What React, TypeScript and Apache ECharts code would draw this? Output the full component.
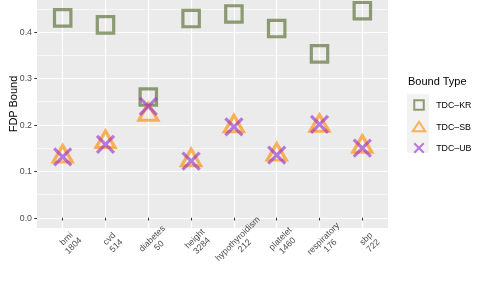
import React, { useEffect, useRef } from "react";
import * as echarts from "echarts";

const categories = ["bmi", "cvd", "diabetes", "height", "hypothyroidism", "platelet", "respiratory", "sbp"];
const counts = [1804, 514, 50, 3284, 212, 1460, 176, 722];
const krValues = [0.4305, 0.4155, 0.26, 0.429, 0.439, 0.4075, 0.353, 0.446];
const sbValues = [0.132, 0.163, 0.222, 0.124, 0.197, 0.136, 0.198, 0.153];
const ubValues = [0.131, 0.158, 0.24, 0.122, 0.196, 0.135, 0.201, 0.15];
const yTicks = [0, 0.1, 0.2, 0.3, 0.4];
const yMinorTicks = [0.05, 0.15, 0.25, 0.35, 0.45];
const seriesNames = ["TDC\u2013KR", "TDC\u2013SB", "TDC\u2013UB"];

const FONT = "'Liberation Sans', Arial, Helvetica, sans-serif";
const KR = "rgba(85,107,47,0.8)";
const SB = "rgba(255,140,0,0.8)";
const UB = "rgba(153,50,204,0.8)";

const SQUARE_PATH = "path://M0,0H10V10H0Z";
const X_PATH = "path://M0,0L10,10M10,0L0,10";

const Y_MIN = -0.022;
const Y_MAX = 0.469;
const GRID = { left: 37, top: 0, width: 351, height: 228 };

export default function App() {
  const ref = useRef<HTMLDivElement>(null);
  useEffect(() => {
    if (!ref.current) return;
    const chart = echarts.init(ref.current, undefined, { renderer: "svg" });
    const xPos = categories.map((_, i) => i + 1);
    const toPoints = (vals: number[]) => vals.map((v, i) => [i + 1, v]);
    chart.setOption({
      animation: false,
      textStyle: { fontFamily: FONT },
      title: {
        text: "Bound Type",
        left: 408,
        top: 75.5,
        padding: 0,
        textStyle: { fontSize: 11, fontWeight: "normal", color: "#000", fontFamily: FONT },
      },
      graphic: [
        {
          type: "rect",
          shape: { x: GRID.left, y: GRID.top, width: GRID.width, height: GRID.height },
          style: { fill: "#EBEBEB" },
          silent: true,
          z: -100,
        },
        {
          type: "rect",
          shape: { x: 407, y: 94.25, width: 22, height: 58.5 },
          style: { fill: "#F2F2F2" },
          silent: true,
          z: -100,
        },
      ],
      legend: {
        orient: "vertical",
        left: 411.75,
        top: 99.25,
        padding: 0,
        itemWidth: 12.5,
        itemHeight: 9.5,
        itemGap: 10,
        selectedMode: false,
        textStyle: { fontSize: 8.8, color: "#000", fontFamily: FONT, lineHeight: 9.5, padding: [0, 0, 0, 6] },
        data: [
          { name: seriesNames[0], icon: SQUARE_PATH, itemStyle: { color: "transparent", borderColor: KR, borderWidth: 2 } },
          { name: seriesNames[1], icon: "triangle", itemStyle: { color: "transparent", borderColor: SB, borderWidth: 2 } },
          { name: seriesNames[2], icon: X_PATH, itemStyle: { color: "transparent", borderColor: UB, borderWidth: 2 } },
        ],
      },
      grid: {
        ...GRID,
        show: false,
        outerBoundsMode: "none",
        containLabel: false,
      },
      xAxis: {
        type: "value",
        min: 0.4,
        max: 8.6,
        z: 5,
        axisLine: { show: false },
        splitLine: { show: true, lineStyle: { color: "#FFFFFF", width: 1.2 } },
        axisTick: { show: true, length: 2.7, customValues: xPos, lineStyle: { color: "#333333", width: 1.07 } },
        axisLabel: {
          customValues: xPos,
          rotate: 45,
          align: "center",
          verticalAlign: "top",
          margin: 7,
          fontSize: 8.8,
          lineHeight: 9.9,
          color: "#4D4D4D",
          fontFamily: FONT,
          formatter: (v: number) => {
            const i = Math.round(v) - 1;
            return `${categories[i]}\n${counts[i]}`;
          },
        },
      },
      yAxis: [
        {
          type: "value",
          min: Y_MIN,
          max: Y_MAX,
          z: 5,
          name: "FDP Bound",
          nameLocation: "middle",
          nameGap: 18.5,
          nameMoveOverlap: false,
          nameTextStyle: { fontSize: 11, color: "#000", fontFamily: FONT, padding: [0, 0, 0, 20] },
          axisLine: { show: false },
          splitLine: { show: true, lineStyle: { color: "#FFFFFF", width: 1.2 } },
          axisTick: { show: true, length: 2.7, customValues: yTicks, lineStyle: { color: "#333333", width: 1.07 } },
          axisLabel: {
            customValues: yTicks,
            margin: 5,
            fontSize: 8.8,
            color: "#4D4D4D",
            fontFamily: FONT,
            formatter: (v: number) => v.toFixed(1),
          },
        },
        {
          type: "value",
          min: Y_MIN,
          max: Y_MAX,
          z: 4,
          position: "left",
          axisLine: { show: false },
          axisLabel: { show: false, customValues: yMinorTicks },
          axisTick: { show: false, customValues: yMinorTicks },
          splitLine: { show: true, lineStyle: { color: "#FFFFFF", width: 0.6 } },
        },
      ],
      series: [
        {
          type: "scatter",
          name: seriesNames[0],
          data: toPoints(krValues),
          symbol: "rect",
          symbolSize: 16.4,
          z: 10,
          itemStyle: { color: "transparent", borderColor: KR, borderWidth: 3.2 },
        },
        {
          type: "scatter",
          name: seriesNames[1],
          data: toPoints(sbValues),
          symbol: "triangle",
          symbolSize: [19, 16.5],
          symbolOffset: [0, -2.75],
          z: 11,
          itemStyle: { color: "transparent", borderColor: SB, borderWidth: 3.2 },
        },
        {
          type: "scatter",
          name: seriesNames[2],
          data: toPoints(ubValues),
          symbol: X_PATH,
          symbolSize: 17,
          z: 12,
          itemStyle: { color: "transparent", borderColor: UB, borderWidth: 3.2 },
        },
      ],
    });
    return () => chart.dispose();
  }, []);
  return <div ref={ref} style={{ position: "fixed", left: 0, top: 0, width: 485, height: 303 }} />;
}
